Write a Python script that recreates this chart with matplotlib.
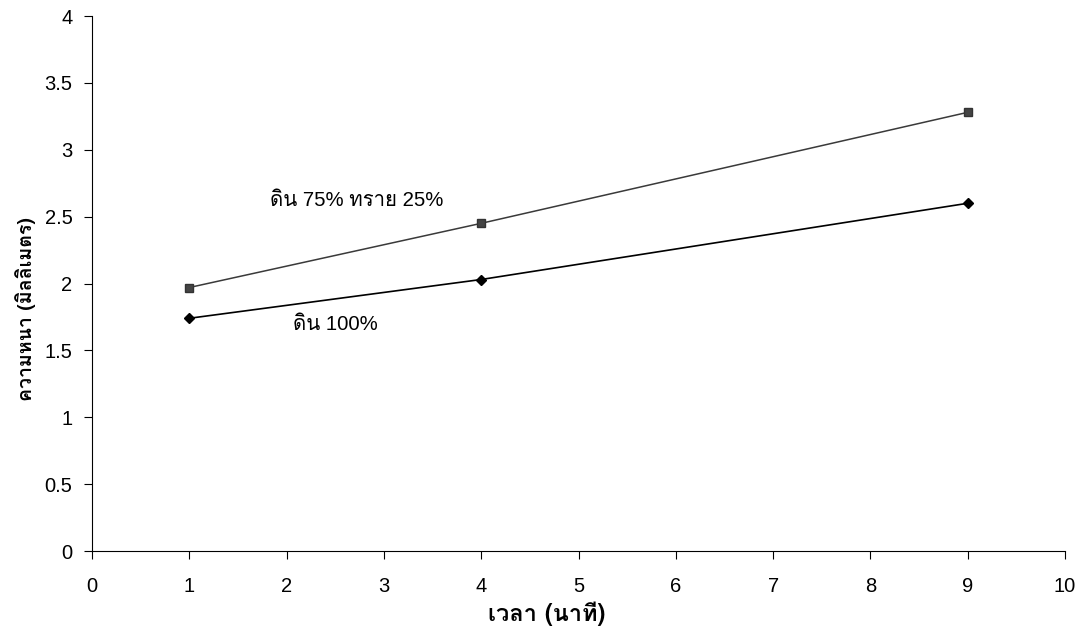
import matplotlib
matplotlib.use("Agg")
import matplotlib.pyplot as plt

plt.rcParams['font.family'] = ['Liberation Sans', 'Loma', 'DejaVu Sans']

# thickness (mm) against time (min)
time_min = [1, 4, 9]
soil_75_sand_25 = [1.97, 2.45, 3.28]
soil_100 = [1.74, 2.03, 2.60]

x_ticks = list(range(0, 11))
y_ticks = [0, 0.5, 1, 1.5, 2, 2.5, 3, 3.5, 4]

fig = plt.figure(figsize=(10.77, 6.41), dpi=100)
ax = fig.add_axes([0.0854, 0.1404, 0.9035, 0.8346])

ax.plot(time_min, soil_75_sand_25, color='#3a3a3a', lw=1.1,
        marker='s', ms=6, mfc='#444444', mec='#333333')
ax.plot(time_min, soil_100, color='black', lw=1.2,
        marker='D', ms=5, mfc='black', mec='black')

ax.text(1.83, 2.62, 'ดิน 75% ทราย 25%', fontsize=14.7, ha='left', va='center')
ax.text(2.07, 1.69, 'ดิน 100%', fontsize=14.7, ha='left', va='center')

ax.set_xlim(0, 10)
ax.set_ylim(0, 4)
ax.set_xticks(x_ticks)
ax.set_yticks(y_ticks)
ax.set_yticklabels(['0', '0.5', '1', '1.5', '2', '2.5', '3', '3.5', '4'])
ax.tick_params(direction='out', length=6, width=0.8, labelsize=14.5)
ax.tick_params(axis='x', pad=13)
ax.tick_params(axis='y', pad=8)

for side in ['top', 'right']:
    ax.spines[side].set_visible(False)
for side in ['left', 'bottom']:
    ax.spines[side].set_linewidth(0.8)

ax.set_xlabel('เวลา (นาที)', fontsize=17, fontweight='bold',
              family=['Loma', 'Liberation Sans'])
ax.set_ylabel('ความหนา (มิลลิเมตร)', fontsize=14, fontweight='bold',
              family=['Loma', 'Liberation Sans'])
ax.xaxis.set_label_coords(0.467, -0.095)
ax.yaxis.set_label_coords(-0.058, 0.452)

fig.savefig('out.png', dpi=100)
